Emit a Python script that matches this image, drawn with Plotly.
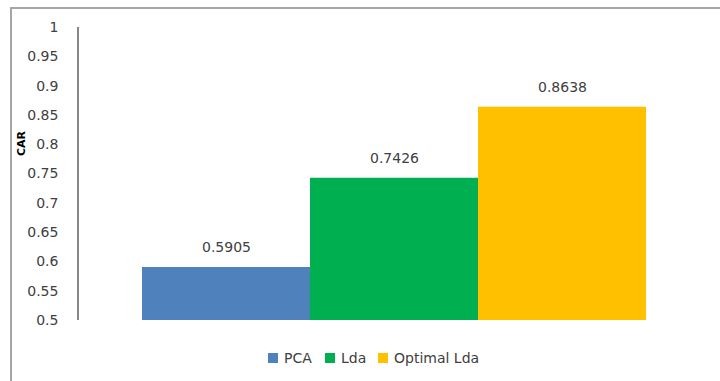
import plotly.graph_objects as go

# Classification accuracy rate (CAR) per method
methods = ["PCA", "Lda", "Optimal Lda"]
car_values = [0.5905, 0.7426, 0.8638]
bar_colors = ["#4F81BD", "#00B050", "#FFC000"]
y_ticks = [0.5, 0.55, 0.6, 0.65, 0.7, 0.75, 0.8, 0.85, 0.9, 0.95, 1]
y_tick_text = ["0.5", "0.55", "0.6", "0.65", "0.7", "0.75", "0.8", "0.85", "0.9", "0.95", "1"]

W, H = 720, 381
L, R, T, B = 79, 11, 27, 61
plot_w = W - L - R
plot_h = H - T - B


def px_x(px):
    return (px - L) / plot_w


def px_y(py):
    return (H - B - py) / plot_h


FONT = "DejaVu Sans"
TXT = "#404040"

fig = go.Figure()
for name, val, col in zip(methods, car_values, bar_colors):
    fig.add_trace(go.Bar(
        x=[name], y=[val], width=1, name=name,
        marker=dict(color=col, line=dict(width=0)),
        showlegend=False,
    ))
    fig.add_annotation(
        x=name, y=val, text=f"{val:.4f}", showarrow=False,
        yanchor="bottom", yshift=10,
        font=dict(family=FONT, size=14, color=TXT),
    )

# Legend drawn as small swatches with labels beneath the plot
legend_sq = [268, 325, 378]
for name, col, sx in zip(methods, bar_colors, legend_sq):
    fig.add_shape(type="rect", xref="paper", yref="paper",
                  x0=px_x(sx), x1=px_x(sx + 10), y0=px_y(363), y1=px_y(353),
                  fillcolor=col, line=dict(width=0))
    fig.add_annotation(xref="paper", yref="paper", x=px_x(sx + 14), y=px_y(358),
                       text=name, showarrow=False, xanchor="left", yanchor="middle",
                       font=dict(family=FONT, size=14, color=TXT))

# Y-axis title
fig.add_annotation(xref="paper", yref="paper", x=px_x(21), y=px_y(143),
                   text="<b>CAR</b>", textangle=-90, showarrow=False,
                   xanchor="center", yanchor="middle",
                   font=dict(family=FONT, size=11, color="#000000"))

# Chart frame
fig.add_shape(type="rect", xref="paper", yref="paper",
              x0=px_x(11), x1=px_x(740), y0=px_y(400), y1=px_y(8),
              line=dict(color="#A6A6A6", width=2), fillcolor="rgba(0,0,0,0)",
              layer="below")

fig.update_layout(
    width=W, height=H,
    margin=dict(l=L, r=R, t=T, b=B, pad=0),
    paper_bgcolor="white", plot_bgcolor="white",
    barmode="overlay",
    showlegend=False,
    xaxis=dict(type="category", range=[-0.875, 2.875], showticklabels=False,
               showgrid=False, zeroline=False, showline=False, ticks=""),
    yaxis=dict(range=[0.5, 1], tickvals=y_ticks, ticktext=y_tick_text,
               showgrid=False, zeroline=False, showline=True,
               linecolor="#868686", linewidth=1.5, ticks="",
               ticklabelstandoff=16,
               tickfont=dict(family=FONT, size=14, color=TXT)),
)

fig.write_html("out.html")
